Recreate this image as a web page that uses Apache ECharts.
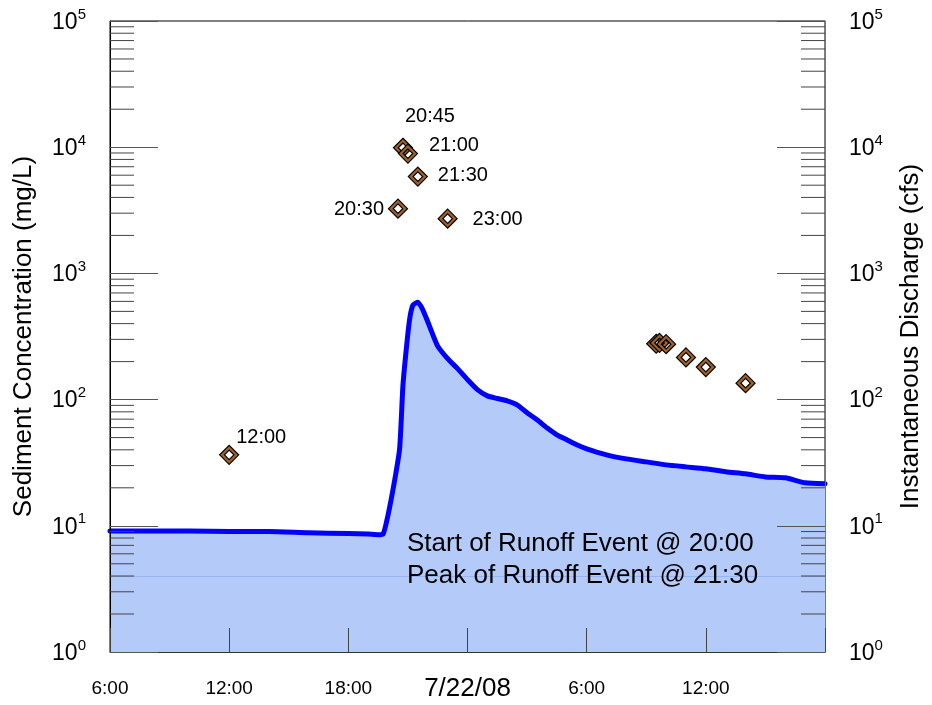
<!DOCTYPE html>
<html>
<head>
<meta charset="utf-8">
<script src="https://cdn.jsdelivr.net/npm/echarts@6/dist/echarts.min.js"></script>
<style>
  html, body { margin: 0; padding: 0; background: #fff; }
  #chart { width: 932px; height: 705px; }
</style>
</head>
<body>
<div id="chart"></div>
<script>
// Instantaneous discharge (cfs), stream gauge record 7/21/08 06:00 – 7/22/08 18:00
const flowTimes = [
  '7/21 06:00', '7/21 08:00', '7/21 10:00', '7/21 12:00', '7/21 14:00', '7/21 16:00',
  '7/21 18:00', '7/21 19:00', '7/21 19:30', '7/21 19:45', '7/21 20:00', '7/21 20:20',
  '7/21 20:35', '7/21 20:45', '7/21 20:55', '7/21 21:05', '7/21 21:15', '7/21 21:30',
  '7/21 21:45', '7/21 22:00', '7/21 22:30', '7/21 23:00', '7/21 23:30', '7/22 00:00',
  '7/22 00:30', '7/22 01:00', '7/22 01:30', '7/22 02:00', '7/22 02:30', '7/22 03:00',
  '7/22 03:30', '7/22 04:00', '7/22 04:30', '7/22 05:00', '7/22 05:30', '7/22 06:00',
  '7/22 07:00', '7/22 08:00', '7/22 09:00', '7/22 10:00', '7/22 11:00', '7/22 12:00',
  '7/22 13:00', '7/22 14:00', '7/22 15:00', '7/22 16:00', '7/22 17:00', '7/22 18:00'
];
const flowCfs = [
  9.1, 9.1, 9.1, 9.0, 9.0, 8.8,
  8.7, 8.6, 8.5, 8.6, 12.2, 23,
  41, 130, 250, 430, 560, 590,
  515, 414, 265, 211, 176, 144,
  120, 107, 102, 97.8, 91, 78.6,
  69.2, 59.8, 52.6, 48, 43.8, 40.7,
  36.5, 33.9, 32.1, 30.4, 29.3, 28.3,
  26.8, 25.8, 24.4, 24.0, 21.9, 21.5
];

// Suspended sediment samples (mg/L)
const sedimentTimes = [
  '7/21 12:00', '7/21 20:30', '7/21 20:45', '7/21 21:00', '7/21 21:30', '7/21 23:00',
  '7/22 09:30', '7/22 09:40', '7/22 10:00', '7/22 11:00', '7/22 12:00', '7/22 14:00'
];
const sedimentMgL = [36.5, 3260, 9900, 8900, 5850, 2715, 277, 281, 275, 216, 181, 135];
const sedimentLabels = ['12:00', '20:30', '20:45', '21:00', '21:30', '23:00', '', '', '', '', '', ''];

// Axis extents and tick labels
const hourMin = 6, hourMax = 42, hourStep = 6;      // 7/21 06:00 .. 7/22 18:00
const dateLabel = '7/22/08';
const logMin = 1, logMax = 100000;
const guideLevel = 4;
const notes = ['Start of Runoff Event @ 20:00', 'Peak of Runoff Event @ 21:30'];

// "7/21 20:30" -> hours since 7/21 00:00
function toHours(s) {
  const [md, hm] = s.split(' ');
  const day = parseInt(md.split('/')[1], 10) - 21;
  const [h, m] = hm.split(':').map(Number);
  return day * 24 + h + m / 60;
}

const FONT = 'Liberation Sans, Arial, Helvetica, sans-serif';

const flowData = flowTimes.map((t, i) => [toHours(t), flowCfs[i]]);
const sedData = sedimentTimes.map((t, i) => [toHours(t), sedimentMgL[i]]);

// label placement around each labelled diamond
const labelOffset = {
  '12:00': [32, -17], '20:30': [-39, 1], '20:45': [27, -31],
  '21:00': [46, -8], '21:30': [45, -1], '23:00': [50, 1]
};

// minor log ticks 2..9 per decade
const minorTicks = [];
for (let d = logMin; d < logMax; d *= 10) {
  for (let k = 2; k <= 9; k++) minorTicks.push([hourMin, d * k]);
}

const supRich = {
  b: { fontSize: 23, fontFamily: FONT, color: '#000', lineHeight: 26, verticalAlign: 'bottom' },
  s: { fontSize: 15, fontFamily: FONT, color: '#000', lineHeight: 15, verticalAlign: 'bottom',
       padding: [0, 0, 12, 0] }
};
const expLabel = v => '{b|10}{s|' + Math.round(Math.log10(v)) + '}';

const diamond = 'path://M10 0 L20 10 L10 20 L0 10 Z M10 5 L5 10 L10 15 L15 10 Z';

const chart = echarts.init(document.getElementById('chart'), null, { renderer: 'canvas' });

chart.setOption({
  animation: false,
  backgroundColor: '#fff',
  grid: {
    left: 110, right: 106, top: 21, bottom: 53,
    show: true, borderColor: '#000', borderWidth: 1, backgroundColor: 'transparent'
  },
  xAxis: {
    type: 'value', min: hourMin, max: hourMax, interval: hourStep, z: 6,
    axisLine: { show: true, onZero: false, lineStyle: { color: '#333', width: 1 } },
    axisTick: { show: true, inside: true, length: 24, lineStyle: { color: '#444', width: 1 } },
    splitLine: { show: false },
    axisLabel: {
      margin: 24, color: '#000', fontFamily: FONT, fontSize: 19, verticalAlign: 'top',
      formatter: v => {
        if (v === hourMax) return '';
        if (v === 24) return '{d|' + dateLabel + '}';
        return '{n|' + (v % 24) + ':00}';
      },
      rich: {
        d: { fontSize: 26, fontFamily: FONT, color: '#000' },
        n: { fontSize: 19, fontFamily: FONT, color: '#000', padding: [3, 0, 0, 0] }
      }
    }
  },
  yAxis: [
    {
      type: 'log', logBase: 10, min: logMin, max: logMax, position: 'left', z: 6,
      name: 'Sediment Concentration (mg/L)', nameLocation: 'middle', nameGap: 73,
      nameTextStyle: { fontSize: 26, fontFamily: FONT, color: '#000' },
      axisLine: { show: true, lineStyle: { color: '#000', width: 1 } },
      axisTick: { show: true, inside: true, length: 48, lineStyle: { color: '#555', width: 1 } },
      splitLine: { show: false },
      axisLabel: { margin: 24, formatter: expLabel, rich: supRich }
    },
    {
      type: 'log', logBase: 10, min: logMin, max: logMax, position: 'right', z: 6,
      name: 'Instantaneous Discharge (cfs)', nameLocation: 'middle', nameGap: 73,
      nameTextStyle: { fontSize: 26, fontFamily: FONT, color: '#000' },
      axisLine: { show: true, lineStyle: { color: '#777', width: 1 } },
      axisTick: { show: true, inside: true, length: 48, lineStyle: { color: '#555', width: 1 } },
      splitLine: { show: false },
      axisLabel: { margin: 24, formatter: expLabel, rich: supRich }
    }
  ],
  graphic: notes.map((t, i) => ({
    type: 'text', left: 407, top: 531 + i * 32, z: 20,
    style: { text: t, fontSize: 26, fontFamily: FONT, fill: '#000' }
  })),
  series: [
    {
      name: 'Discharge', type: 'line', yAxisIndex: 1, data: flowData,
      showSymbol: false, smooth: 0.2, z: 2,
      lineStyle: { color: '#0000ff', width: 5, cap: 'round', join: 'round' },
      areaStyle: { color: '#b4cbfa', opacity: 1, origin: 'start' },
      markLine: {
        silent: true, symbol: 'none', label: { show: false },
        lineStyle: { color: '#96b5f3', width: 1, type: 'solid' },
        data: [{ yAxis: guideLevel }]
      }
    },
    {
      name: 'Sediment', type: 'scatter', yAxisIndex: 0, data: sedData, z: 8,
      symbol: diamond, symbolSize: 19,
      itemStyle: { color: '#a0622a', borderColor: '#000', borderWidth: 1.2, opacity: 1 },
      label: {
        show: true, position: 'inside', color: '#000', fontFamily: FONT, fontSize: 20,
        opacity: 1, textBorderWidth: 0, textBorderColor: 'transparent',
        formatter: p => sedimentLabels[p.dataIndex]
      },
      labelLayout: p => {
        const txt = sedimentLabels[p.dataIndex];
        const off = labelOffset[txt] || [0, 0];
        return { dx: off[0], dy: off[1] };
      }
    },
    {
      name: 'minor ticks', type: 'custom', yAxisIndex: 0, data: minorTicks, z: 7, silent: true,
      renderItem: (params, api) => {
        const v = api.value(1);
        const l = api.coord([hourMin, v]);
        const r = api.coord([hourMax, v]);
        const st = { stroke: '#444', lineWidth: 1 };
        return {
          type: 'group',
          children: [
            { type: 'line', shape: { x1: l[0], y1: l[1], x2: l[0] + 24, y2: l[1] }, style: st },
            { type: 'line', shape: { x1: r[0] - 24, y1: r[1], x2: r[0], y2: r[1] }, style: st }
          ]
        };
      }
    }
  ]
});
</script>
</body>
</html>
